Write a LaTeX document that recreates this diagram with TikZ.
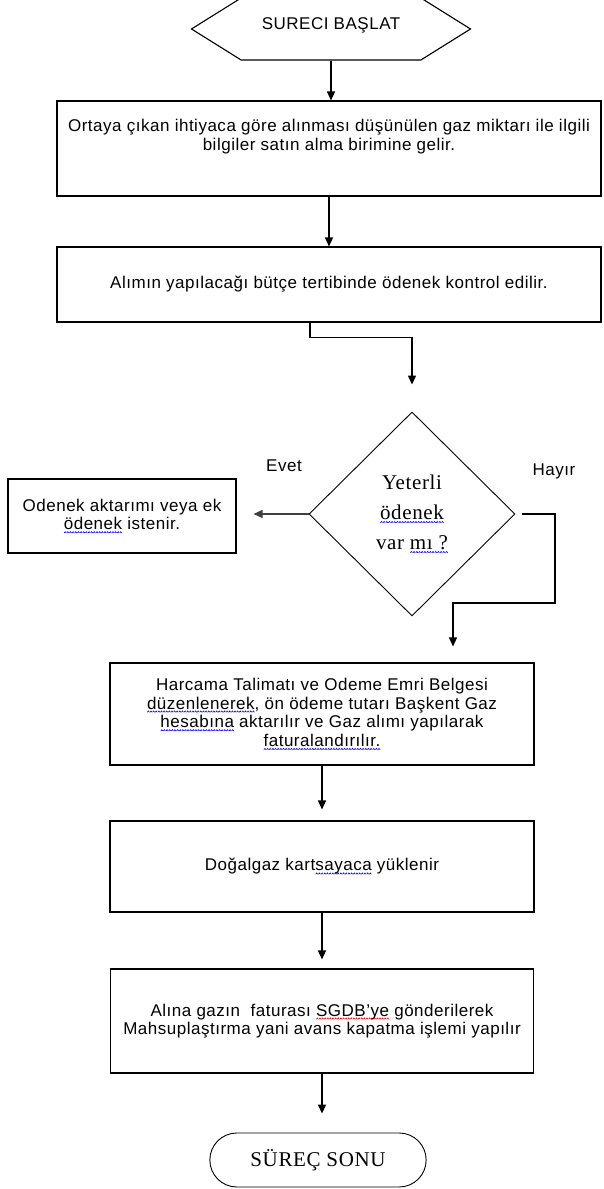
\documentclass[tikz,border=0pt]{standalone}
\usepackage{fontspec}
\setmainfont{Liberation Sans}[LetterSpace=3]
\newfontfamily\timesface{Liberation Serif}[LetterSpace=3]
\usetikzlibrary{shapes.geometric,shapes.symbols,shapes.misc,arrows.meta}

% wavy spell-check underline, built from a small saved zigzag
\newsavebox\bluewave
\newsavebox\redwave
\newcommand\makewave[2]{\sbox#1{\begin{pgfpicture}\pgfsetlinewidth{0.6pt}%
  \pgfsetstrokecolor{#2}\pgfpathmoveto{\pgfpoint{0pt}{0pt}}%
  \pgfpathlineto{\pgfpoint{1pt}{1.3pt}}\pgfpathlineto{\pgfpoint{2pt}{0pt}}%
  \pgfusepath{stroke}\end{pgfpicture}}}
\newcommand\spellwave[2]{\setbox0\hbox{#2}%
  \rlap{\raisebox{-3.5pt}{\hbox to\wd0{\xleaders\copy#1\hfill}}}\box0\relax}

\begin{document}
\makewave\bluewave{blue}\makewave\redwave{red}
\begin{tikzpicture}[x=1pt, y=1pt,
  hexa/.style={signal, signal to=west and east, signal pointer angle=64, draw, line width=1.1pt,
    minimum width=279pt, minimum height=62pt, text depth=11pt,
    font=\fontsize{17}{18.7}\selectfont},
  box/.style={rectangle, draw, line width=1.1pt, align=center, inner sep=3pt,
    font=\fontsize{17}{18.7}\selectfont},
  dec/.style={diamond, draw, line width=0.9pt, aspect=1, inner sep=0pt,
    minimum width=206pt, minimum height=204pt, align=center,
    font=\timesface\fontsize{21}{30}\selectfont},
  term/.style={rounded rectangle, draw, line width=0.9pt, minimum width=223pt,
    minimum height=54pt, font=\timesface\fontsize{21}{24}\selectfont},
  lbl/.style={font=\fontsize{17}{18.7}\selectfont},
  e/.style={->, line width=1.3pt, >={Triangle[length=9pt,width=8pt]}}
]
\useasboundingbox (0,0) rectangle (603,1189);

\node[hexa] (start) at (331,1160) {SURECI BAŞLAT};
\node[box, minimum width=544pt, minimum height=95pt] (need) at (329,1040.5)
  {Ortaya çıkan ihtiyaca göre alınması düşünülen gaz miktarı ile ilgili\\
   bilgiler satın alma birimine gelir.\\[8pt]\mbox{}};
\node[box, minimum width=544pt, minimum height=75pt] (ctrl) at (329,904.5)
  {Alımın yapılacağı bütçe tertibinde ödenek kontrol edilir.};
\node[dec] (check) at (412,675)
  {Yeterli\\\spellwave\bluewave{ödenek}\\var \spellwave\bluewave{mı ?}};
\node[box, minimum width=228pt, minimum height=74pt] (fund) at (122,673)
  {Odenek aktarımı veya ek\\\spellwave\bluewave{ödenek} istenir.};
\node[box, minimum width=424pt, minimum height=102pt] (exec) at (322,475)
  {Harcama Talimatı ve Odeme Emri Belgesi\\
   \spellwave\bluewave{düzenlenerek}, ön ödeme tutarı Başkent Gaz\\
   \spellwave\bluewave{hesabına} aktarılır ve Gaz alımı yapılarak\\
   \spellwave\bluewave{faturalandırılır.}};
\node[box, minimum width=424pt, minimum height=91pt] (load) at (322,322.5)
  {Doğalgaz kart\spellwave\bluewave{sayaca} yüklenir};
\node[box, minimum width=423pt, minimum height=104pt] (report) at (322,168)
  {Alına gazın~~faturası \spellwave\redwave{SGDB’ye} gönderilerek\\
   Mahsuplaştırma yani avans kapatma işlemi yapılır};
\node[term] (stop) at (318,29) {SÜREÇ SONU};

% branch labels
\node[lbl] (yes) at (284,723) {Evet};
\node[lbl] (no) at (554,718) {Hayır};
\coordinate (nobend) at (555,586);

\draw[e] (start.south) -- (start.south |- need.north);
\draw[e] (need.south) -- (ctrl.north);
\draw[e, shorten >=27pt] ([xshift=-19pt]ctrl.south) -- ++(0,-15) -| (check.north);
\draw[e, black!75, shorten >=17pt] (check.west) -- (check.west -| fund.east);
\draw[e, shorten <=7pt, shorten >=16pt] (check.east) -| (nobend) -| ([xshift=131pt]exec.north);
\draw[e, shorten >=11pt] (exec.south) -- (load.north);
\draw[e, shorten >=9pt] (load.south) -- (report.north);
\draw[e, shorten >=19pt] (report.south) -- (report.south |- stop.north);
\end{tikzpicture}
\end{document}
